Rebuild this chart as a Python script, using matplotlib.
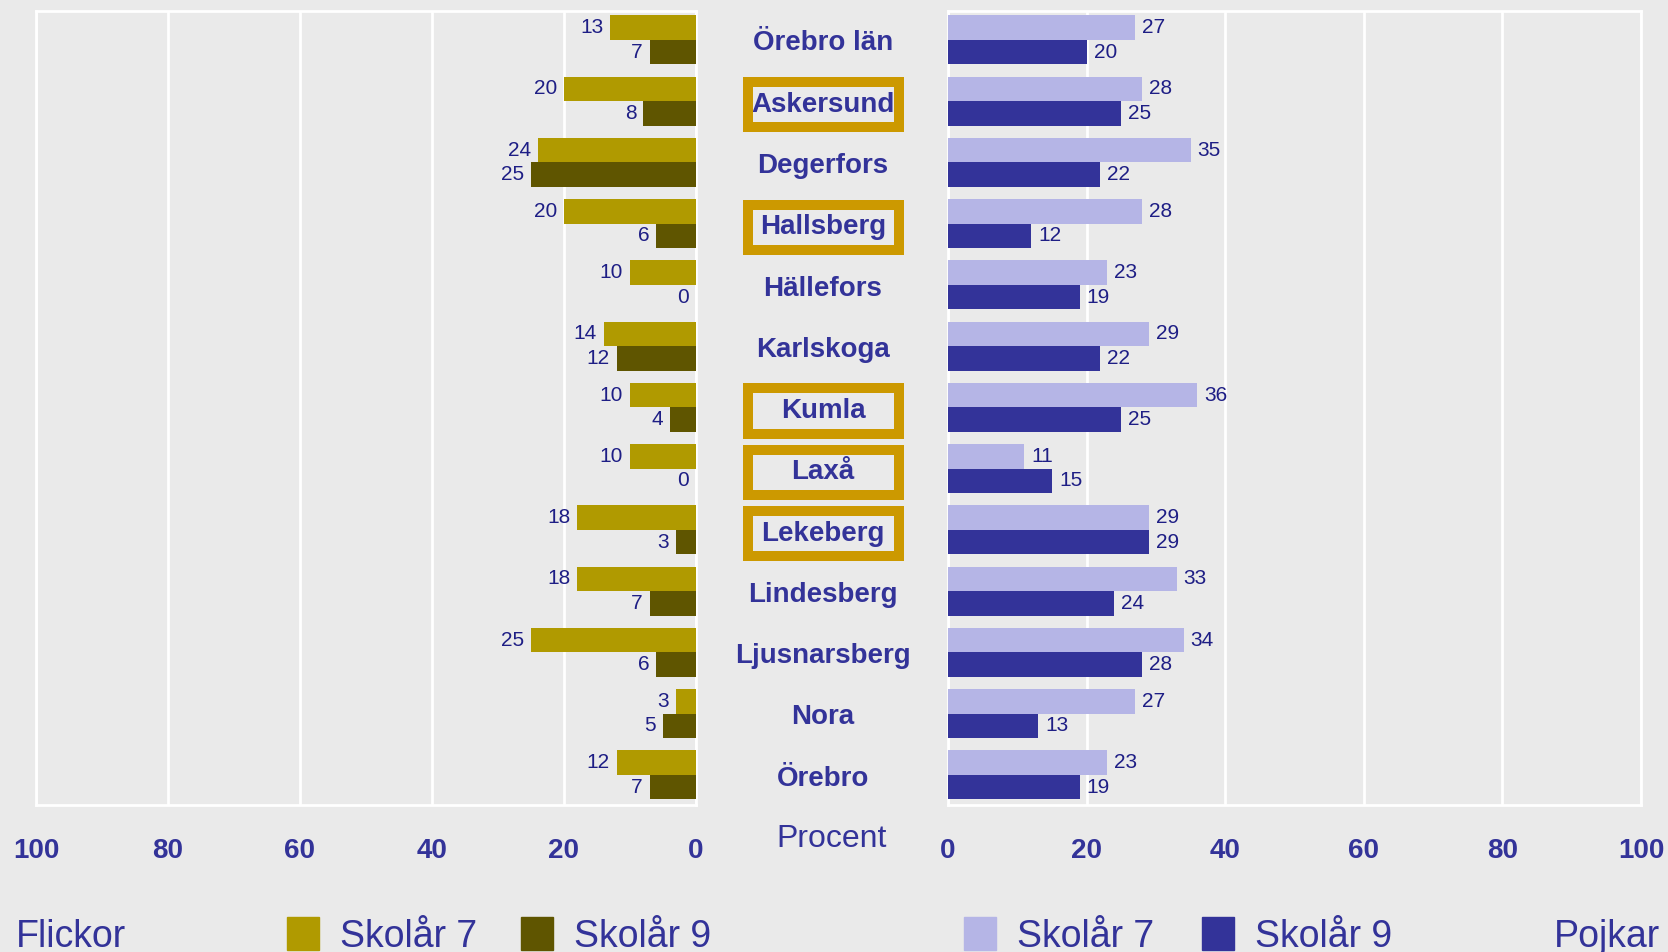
import matplotlib
matplotlib.use('Agg')
import matplotlib.pyplot as plt
from matplotlib.patches import Rectangle
from matplotlib.transforms import blended_transform_factory

kommuner = ['Örebro län', 'Askersund', 'Degerfors', 'Hallsberg', 'Hällefors',
            'Karlskoga', 'Kumla', 'Laxå', 'Lekeberg', 'Lindesberg',
            'Ljusnarsberg', 'Nora', 'Örebro']
flickor_7 = [13, 20, 24, 20, 10, 14, 10, 10, 18, 18, 25, 3, 12]
flickor_9 = [7, 8, 25, 6, 0, 12, 4, 0, 3, 7, 6, 5, 7]
pojkar_7 = [27, 28, 35, 28, 23, 29, 36, 11, 29, 33, 34, 27, 23]
pojkar_9 = [20, 25, 22, 12, 19, 22, 25, 15, 29, 24, 28, 13, 19]
markerade = ['Askersund', 'Hallsberg', 'Kumla', 'Laxå', 'Lekeberg']
ticks = [0, 20, 40, 60, 80, 100]

BG = '#EAEAEA'
BLUE = '#333399'
NUM = '#1E1E85'
F7, F9 = '#B09A00', '#5F5500'
P7, P9 = '#B5B5E6', '#333399'
BOX = '#CC9900'

plt.rcParams['font.family'] = ['Liberation Sans', 'DejaVu Sans']

W, H = 1668, 952
fig = plt.figure(figsize=(W / 100, H / 100), dpi=100, facecolor=BG)


def fx(px):
    return px / W


def fy(py):
    return 1 - py / H


bottom, top = fy(805), fy(11)
ax_l = fig.add_axes([fx(36), bottom, fx(696 - 36), top - bottom])
ax_r = fig.add_axes([fx(948), bottom, fx(1641 - 948), top - bottom])

rows = list(range(len(kommuner)))
bh = 0.4

for ax, v7, v9, c7, c9, side in [(ax_l, flickor_7, flickor_9, F7, F9, -1),
                                 (ax_r, pojkar_7, pojkar_9, P7, P9, 1)]:
    ax.set_facecolor(BG)
    ax.barh([r - bh / 2 for r in rows], v7, height=bh, color=c7, zorder=3)
    ax.barh([r + bh / 2 for r in rows], v9, height=bh, color=c9, zorder=3)
    for r, a, b in zip(rows, v7, v9):
        for val, yy in [(a, r - bh / 2), (b, r + bh / 2)]:
            ax.annotate(str(val), (val, yy), xytext=(5 * side, 0),
                        textcoords='offset points',
                        ha='left' if side > 0 else 'right', va='center',
                        fontsize=15, color=NUM, zorder=4)
    ax.set_ylim(12.49, -0.47)
    if side < 0:
        ax.set_xlim(100, 0)
    else:
        ax.set_xlim(0, 100)
    ax.set_xticks(ticks)
    ax.set_yticks([])
    ax.grid(axis='x', color='white', linewidth=2, zorder=1)
    ax.tick_params(axis='x', length=0, pad=24, labelsize=20, labelcolor=BLUE)
    for lab in ax.get_xticklabels():
        lab.set_fontweight('bold')
    for sp in ax.spines.values():
        sp.set_color('white')
        sp.set_linewidth(2)

# kommunnamn i mitten
tr = blended_transform_factory(fig.transFigure, ax_l.transData)
for r, namn in zip(rows, kommuner):
    ax_l.text(fx(823), r + 0.06, namn, transform=tr, ha='center', va='center',
              fontsize=20, fontweight='bold', color=BLUE, clip_on=False)
    if namn in markerade:
        ax_l.add_patch(Rectangle((fx(748), r - 0.31), fx(899 - 748), 0.74,
                                 transform=tr, fill=False, edgecolor=BOX,
                                 linewidth=7.2, clip_on=False, zorder=5))

fig.text(fx(832), fy(839), 'Procent', ha='center', va='center',
         fontsize=23, color=BLUE)

# förklaring
ly = 937
fig.text(fx(16), fy(ly), 'Flickor', ha='left', va='center',
         fontsize=27, color=BLUE)
fig.text(fx(1660), fy(ly), 'Pojkar', ha='right', va='center',
         fontsize=27, color=BLUE)
for px, col, lab in [(287, F7, 'Skolår 7'), (521, F9, 'Skolår 9'),
                     (964, P7, 'Skolår 7'), (1202, P9, 'Skolår 9')]:
    fig.patches.append(Rectangle((fx(px), fy(950)), fx(32), fy(917) - fy(950),
                                 transform=fig.transFigure, color=col))
    fig.text(fx(px + 53), fy(ly), lab, ha='left', va='center',
             fontsize=27, color=BLUE)

fig.savefig('out.png', dpi=100, facecolor=BG)
